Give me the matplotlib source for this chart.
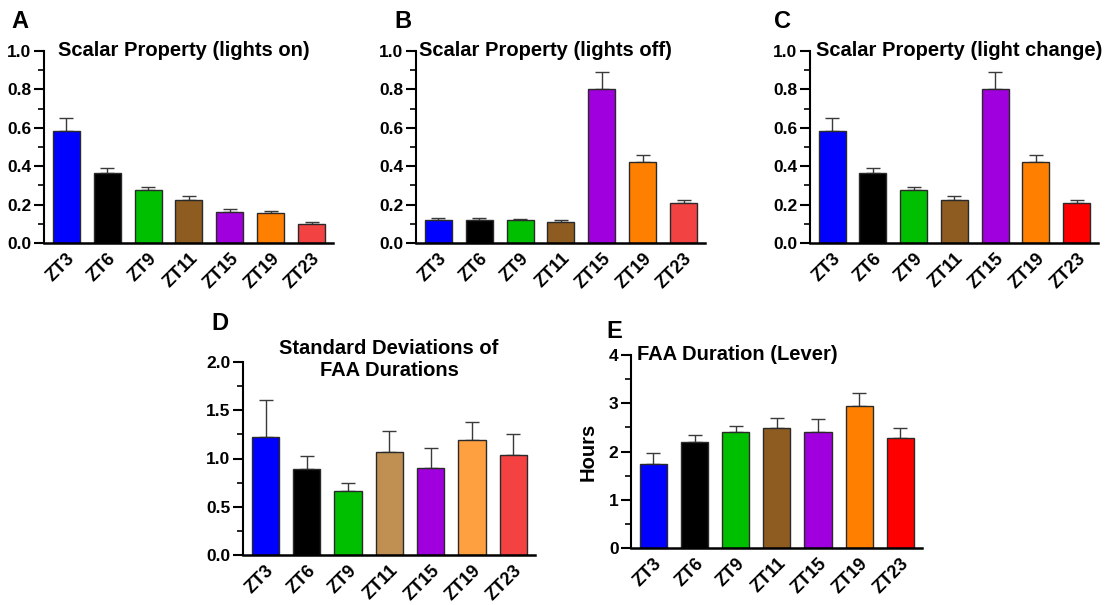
import matplotlib
matplotlib.use("Agg")
import matplotlib.pyplot as plt
from matplotlib.ticker import MultipleLocator, FormatStrFormatter
import numpy as np

plt.rcParams['font.family'] = ['Liberation Sans', 'DejaVu Sans']
plt.rcParams['font.weight'] = 'bold'

groups = ["ZT3", "ZT6", "ZT9", "ZT11", "ZT15", "ZT19", "ZT23"]

# Scalar property, lights on
on_mean = [0.583, 0.366, 0.278, 0.226, 0.161, 0.156, 0.099]
on_sem = [0.070, 0.026, 0.015, 0.019, 0.018, 0.012, 0.010]

# Scalar property, lights off
off_mean = [0.118, 0.122, 0.118, 0.109, 0.800, 0.422, 0.208]
off_sem = [0.014, 0.010, 0.005, 0.009, 0.090, 0.038, 0.018]

# Scalar property, light change
chg_mean = [0.583, 0.366, 0.278, 0.226, 0.800, 0.422, 0.208]
chg_sem = [0.070, 0.026, 0.015, 0.019, 0.090, 0.038, 0.018]

# Standard deviations of FAA durations
sd_mean = [1.219, 0.891, 0.667, 1.071, 0.902, 1.192, 1.040]
sd_sem = [0.391, 0.138, 0.076, 0.210, 0.210, 0.190, 0.210]

# FAA duration (lever), hours
dur_mean = [1.747, 2.205, 2.405, 2.489, 2.405, 2.946, 2.274]
dur_sem = [0.215, 0.145, 0.125, 0.208, 0.271, 0.264, 0.215]

colors_ab = ["#0000FF", "#000000", "#00BF00", "#8E5B20", "#A000DD", "#FF8000", "#F24242"]
colors_c = ["#0000FF", "#000000", "#00BF00", "#8E5B20", "#A000DD", "#FF8000", "#FF0000"]
colors_d = ["#0000FF", "#000000", "#00BF00", "#C08F52", "#A000DD", "#FFA040", "#F44242"]
colors_e = ["#0000FF", "#000000", "#00BF00", "#8E5B20", "#A000DD", "#FF8000", "#FF0000"]

fig = plt.figure(figsize=(11.12, 6.05), dpi=100)

W = 1112.0
H = 605.0


def box(x0, x1, ytop, ybot):
    return [x0 / W, 1 - ybot / H, (x1 - x0) / W, (ybot - ytop) / H]


def panel(rect, means, sems, colors, ymax, major, minor, title, letter,
          letter_xy, title_xy, title_ha="left", ylabel=None):
    ax = fig.add_axes(rect)
    x = np.arange(len(groups))
    ax.bar(x, means, width=0.66, color=colors, edgecolor="#2a2a2a",
           linewidth=1.0, zorder=2)
    ax.errorbar(x, means, yerr=[np.zeros(len(sems)), sems], fmt="none",
                ecolor="#3a3a3a", elinewidth=1.0, capsize=5, capthick=1.0,
                zorder=1)
    ax.set_xlim(-0.545, 6.525)
    ax.set_ylim(0, ymax)
    ax.yaxis.set_major_locator(MultipleLocator(major))
    ax.yaxis.set_minor_locator(MultipleLocator(minor))
    ax.yaxis.set_major_formatter(FormatStrFormatter("%.1f" if major < 1 else "%d"))
    for s in ("top", "right"):
        ax.spines[s].set_visible(False)
    ax.spines["left"].set_linewidth(1.5)
    ax.spines["bottom"].set_linewidth(1.8)
    ax.tick_params(axis="y", which="major", length=7, width=1.5,
                   labelsize=12.5, pad=2)
    ax.tick_params(axis="y", which="minor", length=4, width=1.2)
    ax.tick_params(axis="x", length=0, pad=5)
    ax.set_xticks(x)
    ax.set_xticklabels(groups, rotation=45, ha="right", va="top",
                       rotation_mode="anchor", fontsize=13, fontweight="bold")
    for lab in ax.get_yticklabels():
        lab.set_fontweight("bold")
    ax.text(title_xy[0], title_xy[1], title, transform=ax.transAxes,
            fontsize=14.5, fontweight="bold", ha=title_ha,
            va="center", linespacing=1.2)
    fig.text(letter_xy[0] / W, 1 - letter_xy[1] / H, letter, fontsize=17,
             fontweight="bold", ha="left", va="center")
    if ylabel:
        ax.set_ylabel(ylabel, fontsize=14.5, fontweight="bold",
                      va="center")
        ax.yaxis.set_label_coords(-43 / (rect[2] * W), 0.5)
    return ax


panel(box(44, 333, 51, 243), on_mean, on_sem, colors_ab, 1.0, 0.2, 0.1,
      "Scalar Property (lights on)", "A", (11, 21), (0.05, 1.0))
panel(box(416, 705, 51, 243), off_mean, off_sem, colors_ab, 1.0, 0.2, 0.1,
      "Scalar Property (lights off)", "B", (394, 21), (0.01, 1.0))
panel(box(810, 1098, 51, 243), chg_mean, chg_sem, colors_c, 1.0, 0.2, 0.1,
      "Scalar Property (light change)", "C", (774, 21), (0.02, 1.0))
panel(box(243, 535, 362, 555), sd_mean, sd_sem, colors_d, 2.0, 0.5, 0.25,
      "Standard Deviations of\nFAA Durations", "D", (211, 324),
      (0.50, 1.013), title_ha="center")
panel(box(631, 922, 355, 548), dur_mean, dur_sem, colors_e, 4, 1, 0.5,
      "FAA Duration (Lever)", "E", (606, 332), (0.02, 1.0),
      ylabel="Hours")

fig.savefig("out.png", dpi=100)
